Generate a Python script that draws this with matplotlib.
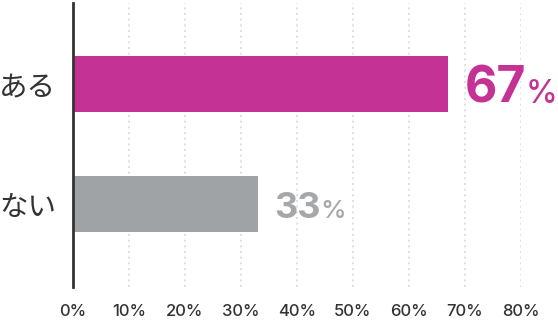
import numpy as np
import matplotlib
matplotlib.use("Agg")
import matplotlib.pyplot as plt

# data
categories = ["ある", "ない"]
values = [67, 33]
value_labels = ["67", "33"]
xticks = [0, 10, 20, 30, 40, 50, 60, 70, 80]
xtick_labels = [f"{t}%" for t in xticks]

# styles
bar_colors = ["#C43296", "#A0A3A6"]
text_colors = ["#C43296", "#A5A8AB"]
num_sizes = [36, 26]
pct_sizes = [23, 18.5]
baseline_off = [-13.5, -10.0]   # points below bar centre

W, H, DPI = 558, 326, 100
fig = plt.figure(figsize=(W / DPI, H / DPI), dpi=DPI)
ax = fig.add_axes([73 / W, 1 - 287 / H, (520.7 - 73) / W, (287 - 3) / H])

y = np.arange(len(categories))
ax.barh(y, values, height=0.467, color=bar_colors, zorder=3)

ax.set_xlim(0, 80)
ax.set_ylim(1.69, -0.675)

# dotted grid
for t in xticks[1:]:
    ax.axvline(t, color="#DADADA", lw=1.2, ls=(0, (1.2, 2.2)), zorder=1)

for s in ["top", "right", "bottom"]:
    ax.spines[s].set_visible(False)
ax.spines["left"].set_color("#333333")
ax.spines["left"].set_linewidth(2)
ax.spines["left"].set_zorder(4)

ax.set_xticks(xticks)
ax.set_xticklabels(xtick_labels, fontfamily="Inter", fontweight="medium",
                   fontsize=12, color="#333333")
ax.set_yticks(y)
ax.set_yticklabels(categories, fontfamily="Noto Sans CJK JP", fontsize=20.5, color="#333333")
ax.tick_params(axis="x", length=0, pad=12)
ax.tick_params(axis="y", length=0, pad=12)

# value labels
for i, (v, lab) in enumerate(zip(values, value_labels)):
    t = ax.annotate(lab, xy=(v, i), xytext=(12, baseline_off[i]),
                    textcoords="offset points", va="baseline", ha="left",
                    fontfamily="Inter", fontweight="bold", fontsize=num_sizes[i],
                    color=text_colors[i], annotation_clip=False)
    ax.annotate("%", xy=(1, i), xycoords=(t, "data"), xytext=(-0.5, baseline_off[i]),
                textcoords="offset points", va="baseline", ha="left",
                fontfamily="Inter", fontweight="medium", fontsize=pct_sizes[i],
                color=text_colors[i], annotation_clip=False)

fig.savefig("out.png", dpi=DPI)
